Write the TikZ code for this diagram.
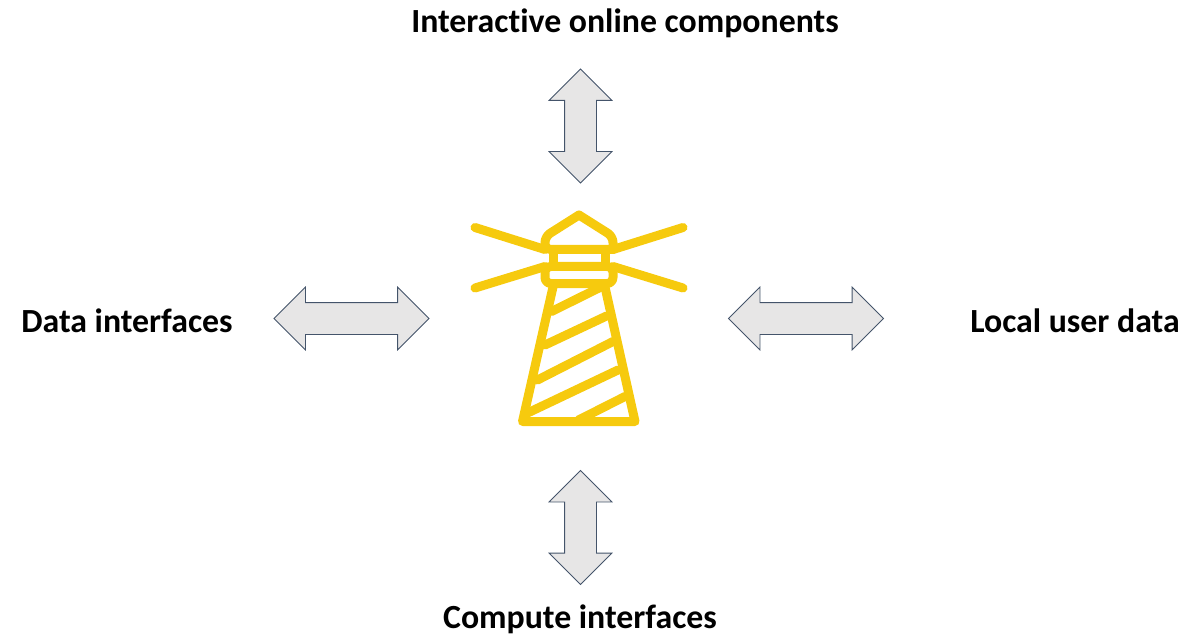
\documentclass[tikz,border=0pt]{standalone}
\usepackage{fontspec}
\setmainfont[Ligatures=NoCommon]{Carlito}
\usepackage{tikz}
\usetikzlibrary{shapes.arrows}
\definecolor{lampyellow}{HTML}{F6CA0E}
\definecolor{arrowfill}{HTML}{E7E6E6}
\definecolor{arrowline}{HTML}{44546A}
\tikzset{
  blockarrow/.style={double arrow,draw=arrowline,fill=arrowfill,line width=0.8pt,inner xsep=0pt,inner ysep=15.5pt,
    minimum height=155pt,double arrow head extend=15.5pt,double arrow tip angle=90},
  blockarrowv/.style={blockarrow,rotate=90,minimum height=114pt},
  blocklabel/.style={font=\fontsize{33.8}{40}\selectfont\bfseries,inner sep=0pt},
  lamp/.style={draw=lampyellow,line width=9pt,line cap=round,line join=round}
}
\begin{document}
\begin{tikzpicture}[x=1pt,y=-1pt]
\useasboundingbox (0,0) rectangle (1204,636);
\node[blocklabel] (online) at (625,23.5) {Interactive online components};
\node[blocklabel] (data) at (127,320.5) {Data interfaces};
\node[blocklabel] (local) at (1075,320.5) {Local user data};
\node[blocklabel] (compute) at (580,619.5) {Compute interfaces};
\node[blockarrowv] (arrowtop) at (580.5,126) {};
\node[blockarrowv] (arrowbottom) at (580.5,527.5) {};
\node[blockarrow] (arrowleft) at (351.5,318.5) {};
\node[blockarrow] (arrowright) at (806,318.5) {};
% lighthouse: roof and gallery
\draw[lamp,rounded corners=6pt] (579,215) -- (545,236.5) -- (545,249.5) -- (613,249.5);
\draw[lamp,rounded corners=6pt] (579,215) -- (613,236.5) -- (613,249.5);
\draw[lamp,rounded corners=6pt] (545,266.5) -- (545,283.5) -- (613,283.5) -- (613,266.5) -- cycle;
\draw[lamp] (553,249.5) -- (553,266.5) (605,249.5) -- (605,266.5);
% rays
\draw[lamp] (475,227.5) -- (545,249.5) (475,288) -- (545,266.5);
\draw[lamp] (683,227.5) -- (613,249.5) (683,288) -- (613,266.5);
% tower
\draw[lamp] (553,287) -- (522.5,421.5) -- (635,421.5) -- (605,287);
\foreach \xa/\ya/\xb/\yb in {551.5/311.5/605/285,545/345/606.5/316,537.5/380/613/341.5,
  526.5/413.5/618/370,578.5/420/625/396.5}
  \draw[lamp] (\xa,\ya) -- (\xb,\yb);
\end{tikzpicture}
\end{document}
